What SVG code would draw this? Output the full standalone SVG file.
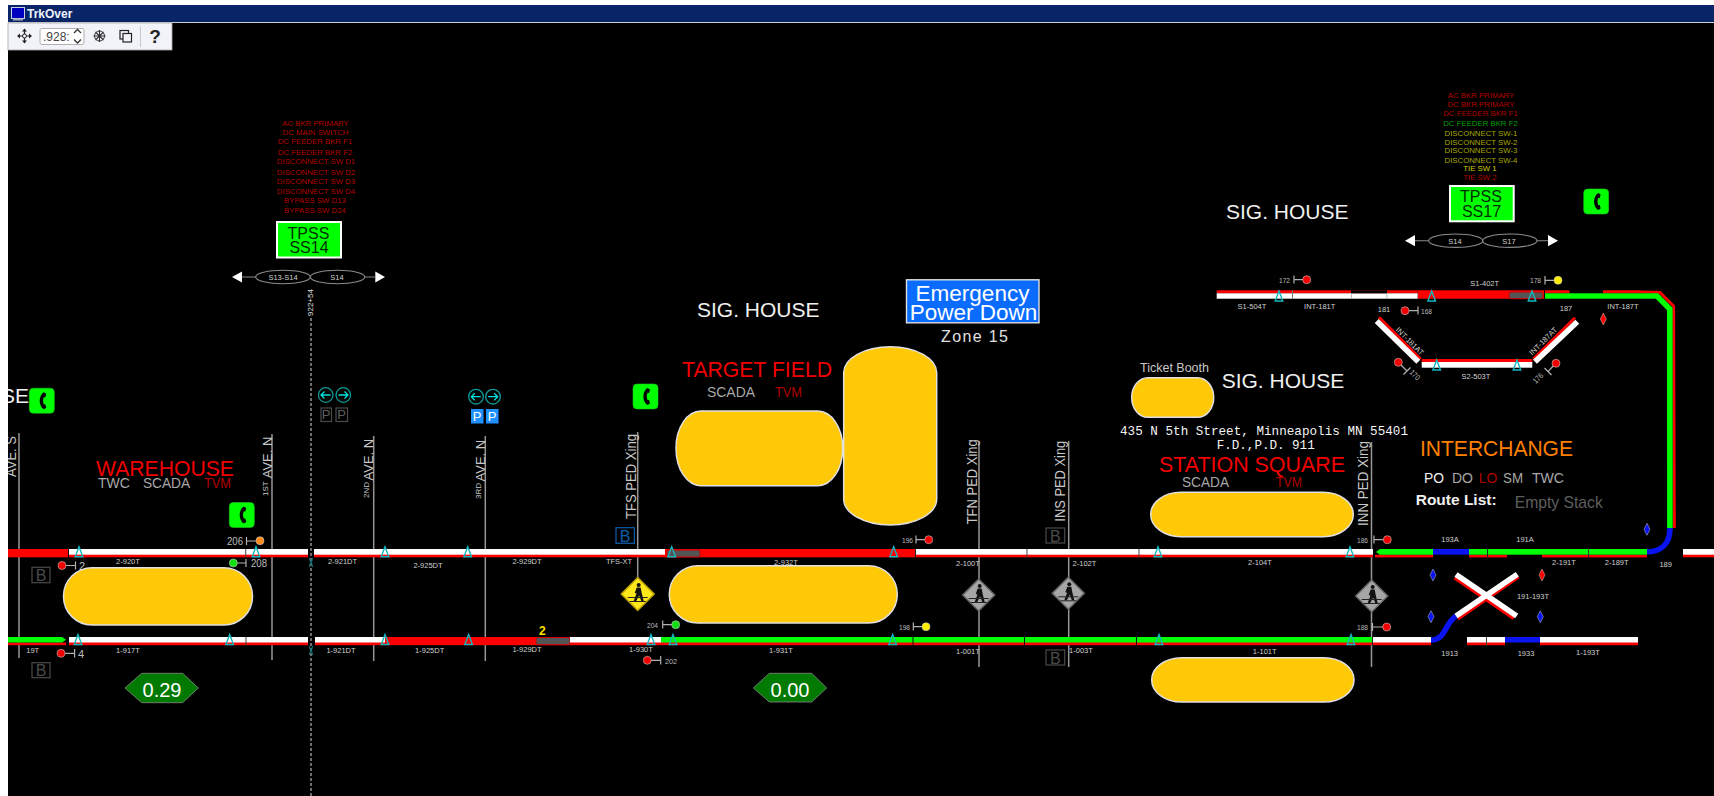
<svg xmlns="http://www.w3.org/2000/svg" width="1714" height="796" viewBox="0 0 1714 796">
<style>
text{font-family:"Liberation Sans",Arial,sans-serif}
.t8{font-size:7.5px;fill:#d0d0d0;text-anchor:middle}
.sig{font-size:8px;fill:#bdbdbd}
.red{font-size:21.5px;fill:#f00000}
.house{font-size:21px;fill:#f0f0f0}
.gr{font-size:14px;fill:#a8a8a8}
.dr{font-size:14px;fill:#b00000}
.v{font-size:14px;fill:#c8c8c8}
.lst{font-size:7.8px;text-anchor:middle}
.tp{font-size:16px;fill:#003000;text-anchor:middle}
.mono{font-family:"Liberation Mono",monospace;font-size:12.6px;fill:#f4f4f4}
.w{fill:#fff}.r{fill:#f00}.g{fill:#00ff00}.b{fill:#0a14f0}
.train{fill:#555;stroke:#d00000;stroke-width:1}
.plat{fill:#ffc907;stroke:#e0e0e0;stroke-width:1.5}
.pole{stroke:#969696;stroke-width:1.5;fill:none}
.tri{fill:none;stroke:#12b8c0;stroke-width:1.4}
.stem{stroke:#b0b0b0;stroke-width:1.2;fill:none}
.lamp{stroke:#c8c8c8;stroke-width:.6}
.phone{fill:#00ff00;stroke:#20c020;stroke-width:.6}
.bb{fill:none;stroke:#4a4a4a;stroke-width:1.2}
.bt{font-size:16px;fill:#4a4a4a;text-anchor:middle}
.hex{fill:#007a00;stroke:#8a8a8a;stroke-width:.8}
.sp{font-size:20px;fill:#fff;text-anchor:middle}
.ell{fill:none;stroke:#8c8c8c;stroke-width:1.1}
.dm{stroke:#c8c8c8;stroke-width:.5}
.cy{fill:none;stroke:#0f9a9a;stroke-width:1.3}
.tk{fill:none;stroke:#0c7f80;stroke-width:1}
</style>
<defs>
<path id="tr" d="M0-5 L3.8 5 L-3.8 5Z"/>
<path id="hand" d="M2-8.500 L4.500-7 L3.500-3.500 L2-3.500 C1-1 1 1 2 3.500 L3.500 3.500 L4.500 7 L2 8.500 C-3.500 5-3.500-5 2-8.500Z"/>
<g id="walker"><circle cx="1" cy="-9" r="2" fill="#111"/><path d="M-1-6.500 L3-6.500 L4-1 L6 7 L3.600 7 L1.400 1.500 L-1.500 7 L-4 7 L-1.200-.5 L-3-1 Z" fill="#111"/><path d="M-10 3.500 H10 M-8 7.500 H8" stroke="#222" stroke-width="1" fill="none"/></g>
</defs>
<rect width="1714" height="796" fill="#000"/>

<g id="connectors">
<g id="poles">
<path class="pole" d="M19 433V658M272 434V660M373.700 436V661M485.300 436V661M637.700 432V580M979 442V667M1068.700 441V667M1371.500 442V667"/>
<path d="M311 318V796" stroke="#9a9a9a" stroke-width="1.400" stroke-dasharray="3 2" fill="none"/>
</g>
<g id="track-2">
<rect class="r" x="8" y="549" width="60" height="8.300"/>
<rect class="r" x="69" y="549" width="239" height="8.300"/><rect class="w" x="69" y="549" width="239" height="5.700"/>
<rect x="245.200" y="549" width="1" height="8.300" fill="#444"/>
<rect class="r" x="314" y="549" width="351" height="8.300"/><rect class="w" x="314" y="549" width="351" height="5.700"/>
<rect class="r" x="665" y="549" width="250" height="8.300"/>
<rect x="915" y="549" width="1.200" height="8.300" fill="#222"/>
<rect class="r" x="916" y="549" width="457" height="8.300"/><rect class="w" x="916" y="549" width="457" height="5.700"/>
<rect x="1026.500" y="549" width="1" height="8.300" fill="#444"/><rect x="1138.500" y="549" width="1" height="8.300" fill="#444"/>
<rect class="r" x="1375" y="554.700" width="58" height="2.700"/>
<path class="g" d="M1376 552 L1380 549 H1433 V554.700 H1380Z"/>
<rect class="b" x="1433" y="549" width="36" height="5.700"/>
<rect class="r" x="1469" y="554.700" width="38" height="2.700"/><rect class="r" x="1542" y="554.700" width="105" height="2.700"/>
<rect class="g" x="1469" y="549" width="178" height="5.700"/>
<rect x="1487" y="549" width="1" height="8.300" fill="#222"/><rect x="1588" y="549" width=".8" height="8.300" fill="#222"/>
<path d="M1647 551.800 C1660 551.800 1670 545 1670 528" fill="none" stroke="#0a14f0" stroke-width="5.600"/>
<rect class="r" x="1683" y="549" width="31" height="8.300"/><rect class="w" x="1683" y="549" width="31" height="5.700"/>
<rect class="train" x="667" y="550" width="33" height="7" rx="1"/>
</g>
<g id="track-1">
<rect class="r" x="8" y="642.500" width="58" height="2.700"/>
<path class="g" d="M8 637 H62 L66 639.700 L62 642.500 H8Z"/>
<rect class="r" x="69" y="637" width="239" height="8.200"/><rect class="w" x="69" y="637" width="239" height="5.500"/>
<rect x="245.500" y="637" width="1" height="8.200" fill="#444"/>
<rect class="r" x="315" y="637" width="346" height="8.200"/><rect class="w" x="315" y="637" width="70" height="5.500"/>
<rect class="train" x="536" y="637.500" width="34" height="7.200" rx="1.500"/>
<rect class="w" x="570" y="637" width="91" height="5.500"/>
<rect class="r" x="661" y="637" width="711" height="8.200"/><rect class="g" x="661" y="637" width="711" height="5.500"/>
<rect x="912.500" y="637" width="1" height="8.200" fill="#111"/><rect x="1024" y="637" width="1" height="8.200" fill="#111"/><rect x="1136" y="637" width="1" height="8.200" fill="#111"/>
<rect class="r" x="1373" y="637" width="58" height="8.200"/><rect class="w" x="1373" y="637" width="58" height="5.500"/>
<path d="M1431 640 C1446 640 1444 624 1456 616" fill="none" stroke="#0a14f0" stroke-width="5.600"/>
<rect class="r" x="1467" y="637" width="38" height="8.200"/><rect class="w" x="1467" y="637" width="38" height="5.500"/>
<rect x="1486" y="637" width="1" height="8.200" fill="#444"/>
<rect class="b" x="1505" y="637" width="35" height="5.500"/>
<rect class="r" x="1540" y="637" width="98" height="8.200"/><rect class="w" x="1540" y="637" width="98" height="5.500"/>
</g>
<g id="crossover" fill="none">
<path d="M1454.500 578 L1513.500 618.500M1458 619 L1518.700 577" stroke="#f00" stroke-width="3"/>
<path d="M1456 574.500 L1516.700 616M1456 616 L1517.300 574.300" stroke="#fff" stroke-width="5.600"/>
</g>
<g id="upper-track">
<rect class="r" x="1216.700" y="290.300" width="201" height="3"/>
<rect class="w" x="1216.700" y="293.300" width="201" height="5.400"/>
<rect x="1351" y="290.300" width="36" height="3" fill="#000"/>
<rect x="1292" y="290.300" width="1" height="8.400" fill="#777"/><rect x="1351" y="293.300" width=".8" height="5.400" fill="#aaa"/><rect x="1386.500" y="293.300" width=".8" height="5.400" fill="#aaa"/>
<rect class="r" x="1418" y="290.300" width="126" height="8.400"/>
<rect class="train" x="1509" y="292" width="34" height="6.700" rx="2"/>
<rect class="r" x="1545" y="290.300" width="24.500" height="3"/><rect class="r" x="1603" y="290.300" width="38" height="3"/>
<rect class="g" x="1545" y="293.300" width="96" height="5.400"/>
<path d="M1641 291.800 L1660 292.400 L1673.700 306 L1674.400 528" fill="none" stroke="#f00" stroke-width="2.800"/>
<path d="M1641 296 L1657 296 L1669.800 309 L1669.900 528" fill="none" stroke="#00ff00" stroke-width="5.600"/>
<path d="M1379 317.300 L1420.700 359 M1575 317.700 L1533.300 359" fill="none" stroke="#f00" stroke-width="3"/>
<path d="M1376.700 321 L1418.300 361.700 M1577.300 321.700 L1535 361.700" fill="none" stroke="#fff" stroke-width="5.600"/>
<rect class="r" x="1421.700" y="359" width="110.600" height="3"/><rect class="w" x="1421.700" y="362" width="110.600" height="5.700"/>
</g>
<g id="section-ticks">
<path class="tk" d="M309.500 558 Q311.500 562.500 309.500 567M312.500 558 Q310.500 562.500 312.500 567M309.500 646 Q311.500 650.500 309.500 655M312.500 646 Q310.500 650.500 312.500 655"/>
</g>
<g id="track-circuit-markers">
<use href="#tr" class="tri" x="79" y="551.700"/><use href="#tr" class="tri" x="256" y="551.700"/><use href="#tr" class="tri" x="385" y="551.700"/><use href="#tr" class="tri" x="467.700" y="551.700"/><use href="#tr" class="tri" x="671.700" y="551.700"/><use href="#tr" class="tri" x="893.700" y="551.700"/><use href="#tr" class="tri" x="1158" y="551.700"/><use href="#tr" class="tri" x="1350" y="551.700"/>
<use href="#tr" class="tri" x="78" y="639.500"/><use href="#tr" class="tri" x="229.700" y="639.500"/><use href="#tr" class="tri" x="385" y="639.500"/><use href="#tr" class="tri" x="468.600" y="639.500"/><use href="#tr" class="tri" x="651" y="639.500"/><use href="#tr" class="tri" x="673" y="639.500"/><use href="#tr" class="tri" x="892.700" y="639.500"/><use href="#tr" class="tri" x="1159" y="639.500"/><use href="#tr" class="tri" x="1351" y="639.500"/>
<use href="#tr" class="tri" x="1279" y="296"/><use href="#tr" class="tri" x="1431.700" y="296"/><use href="#tr" class="tri" x="1532" y="296"/>
<use href="#tr" class="tri" x="1436.700" y="365"/><use href="#tr" class="tri" x="1517" y="365"/>
</g>
</g>

<g id="track-labels">
<text class="t8" x="128" y="564">2-920T</text><text class="t8" x="342.500" y="564">2-921DT</text><text class="t8" x="428" y="568">2-925DT</text><text class="t8" x="527" y="564">2-929DT</text><text class="t8" x="619" y="564">TFS-XT</text><text class="t8" x="786" y="565">2-932T</text><text class="t8" x="968" y="566">2-100T</text><text class="t8" x="1084.500" y="566">2-102T</text><text class="t8" x="1260" y="565">2-104T</text><text class="t8" x="1564" y="564.500">2-191T</text><text class="t8" x="1616.700" y="564.500">2-189T</text><text class="t8" x="1665.700" y="567">189</text><text class="t8" x="1450" y="542">193A</text><text class="t8" x="1525" y="542">191A</text><text class="t8" x="1533" y="599">191-193T</text>
<text class="t8" x="32.700" y="653">19T</text><text class="t8" x="128" y="652.500">1-917T</text><text class="t8" x="341" y="652.500">1-921DT</text><text class="t8" x="429.700" y="652.500">1-925DT</text><text class="t8" x="527" y="652">1-929DT</text><text class="t8" x="641" y="652">1-930T</text><text class="t8" x="781" y="653">1-931T</text><text class="t8" x="968" y="654">1-001T</text><text class="t8" x="1081" y="652.500">1-003T</text><text class="t8" x="1264.700" y="653.500">1-101T</text><text class="t8" x="1449.700" y="655.500">1913</text><text class="t8" x="1526" y="655.500">1933</text><text class="t8" x="1588" y="654.500">1-193T</text>
<text class="t8" x="1252" y="308.500">S1-504T</text><text class="t8" x="1319.700" y="308.500">INT-181T</text><text class="t8" x="1384" y="312">181</text><text class="t8" x="1484.700" y="285.500">S1-402T</text><text class="t8" x="1566" y="310.500">187</text><text class="t8" x="1623" y="309">INT-187T</text><text class="t8" x="1476" y="378.500">S2-503T</text>
<text class="t8" transform="translate(1408 343) rotate(45)">INT-181AT</text><text class="t8" transform="translate(1545 343) rotate(-45)">INT-187AT</text>
<text x="542.300" y="635" font-size="12" font-weight="bold" fill="#ffe000" text-anchor="middle">2</text>
</g>

<g id="signals">
<g id="sig-206"><text x="227" y="544.500" font-size="10" fill="#bdbdbd" textLength="16" lengthAdjust="spacingAndGlyphs">206</text><path class="stem" d="M246.500 537V545M246.500 541H256"/><circle class="lamp" cx="260" cy="540.700" r="4" fill="#ff8c1a"/></g>
<g id="sig-208"><circle class="lamp" cx="233.300" cy="563" r="4" fill="#10e010"/><path class="stem" d="M246 559V567M237 563H246"/><text x="251" y="567" font-size="11" fill="#bdbdbd" textLength="16" lengthAdjust="spacingAndGlyphs">208</text></g>
<g id="sig-2"><circle class="lamp" cx="62" cy="565.500" r="4" fill="#f00000"/><path class="stem" d="M75.500 561.500V569.500M66 565.500H75.500"/><text x="79" y="569.500" font-size="11" fill="#bdbdbd">2</text></g>
<g id="sig-4"><circle class="lamp" cx="61" cy="653.300" r="4" fill="#f00000"/><path class="stem" d="M74.600 649V657.500M65 653.300H74.600"/><text x="78" y="657.500" font-size="11" fill="#bdbdbd">4</text></g>
<g id="sig-204"><text class="sig" x="647" y="627.500" textLength="11" lengthAdjust="spacingAndGlyphs">204</text><path class="stem" d="M662.700 620.500V628.500M662.700 624.700H672"/><circle class="lamp" cx="675.700" cy="624.700" r="4" fill="#10e010"/></g>
<g id="sig-202"><circle class="lamp" cx="647.300" cy="660.300" r="4" fill="#f00000"/><path class="stem" d="M660.700 656V664.500M651 660.300H660.700"/><text class="sig" x="665" y="663.500" textLength="12" lengthAdjust="spacingAndGlyphs">202</text></g>
<g id="sig-196"><text class="sig" x="902" y="542.700" textLength="11" lengthAdjust="spacingAndGlyphs">196</text><path class="stem" d="M916 535.500V543.500M916 539.700H925"/><circle class="lamp" cx="928.700" cy="539.700" r="4" fill="#f00000"/></g>
<g id="sig-198"><text class="sig" x="899" y="629.500" textLength="11" lengthAdjust="spacingAndGlyphs">198</text><path class="stem" d="M913.300 622.500V630.500M913.300 626.700H922"/><circle class="lamp" cx="926" cy="626.700" r="4" fill="#ffee00"/></g>
<g id="sig-186"><text class="sig" x="1357" y="543" textLength="11" lengthAdjust="spacingAndGlyphs">186</text><path class="stem" d="M1374 535.500V543.500M1374 539.700H1383.500"/><circle class="lamp" cx="1387.300" cy="539.700" r="4" fill="#f00000"/></g>
<g id="sig-188"><text class="sig" x="1357" y="630" textLength="11" lengthAdjust="spacingAndGlyphs">188</text><path class="stem" d="M1372.500 623V631M1372.500 627H1383"/><circle class="lamp" cx="1386.700" cy="627" r="4" fill="#f00000"/></g>
<g id="sig-172"><text class="sig" x="1279" y="282.700" textLength="11" lengthAdjust="spacingAndGlyphs">172</text><path class="stem" d="M1294 275.500V283.500M1294 279.700H1303"/><circle class="lamp" cx="1306.700" cy="279.700" r="4" fill="#f00000"/></g>
<g id="sig-168"><circle class="lamp" cx="1405" cy="310.700" r="4" fill="#f00000"/><path class="stem" d="M1418 306.500V314.500M1409 310.700H1418"/><text class="sig" x="1421" y="313.700" textLength="11" lengthAdjust="spacingAndGlyphs">168</text></g>
<g id="sig-178"><text class="sig" x="1530" y="283.300" textLength="11" lengthAdjust="spacingAndGlyphs">178</text><path class="stem" d="M1545 276V284.500M1545 280.300H1554"/><circle class="lamp" cx="1558" cy="280.300" r="4" fill="#ffee00"/></g>
<g id="sig-170"><circle class="lamp" cx="1398.300" cy="362.300" r="4" fill="#f00000"/><path class="stem" d="M1401 365L1407 371M1403.500 374.500L1410.500 367.500"/><text class="sig" transform="translate(1409 373) rotate(45)" textLength="11" lengthAdjust="spacingAndGlyphs">170</text></g>
<g id="sig-176"><circle class="lamp" cx="1556" cy="363.300" r="4" fill="#f00000"/><path class="stem" d="M1553.200 366L1548 371.700M1544.500 368L1551.500 375"/><text class="sig" transform="translate(1536 384) rotate(-45)" textLength="11" lengthAdjust="spacingAndGlyphs">176</text></g>
</g>

<g id="switch-indicators">
<path class="b dm" d="M1433 569 L1436 575 L1433 581 L1430 575Z"/><path class="b dm" d="M1431 610.700 L1434 616.700 L1431 622.700 L1428 616.700Z"/><path class="b dm" d="M1540.300 610.700 L1543.300 616.700 L1540.300 622.700 L1537.300 616.700Z"/><path class="b dm" d="M1647 523.300 L1650 529.300 L1647 535.300 L1644 529.300Z"/>
<path class="r dm" d="M1542 569 L1545 575 L1542 581 L1539 575Z"/><path class="r dm" d="M1603.300 313 L1606.300 319 L1603.300 325 L1600.300 319Z"/>
</g>

<g id="street-labels">
<text class="v" transform="translate(16 477) rotate(-90)" textLength="41" lengthAdjust="spacingAndGlyphs">AVE. S</text>
<text class="v" transform="translate(272 496) rotate(-90)"><tspan font-size="8" dy="-4">1ST</tspan><tspan dy="4" dx="3" font-size="13">AVE. N</tspan></text>
<text class="v" transform="translate(373 498) rotate(-90)"><tspan font-size="8" dy="-4">2ND</tspan><tspan dy="4" dx="1.500" font-size="13">AVE. N</tspan></text>
<text class="v" transform="translate(485 499) rotate(-90)"><tspan font-size="8" dy="-4">3RD</tspan><tspan dy="4" dx="1.500" font-size="13">AVE. N</tspan></text>
<text class="v" transform="translate(635.700 519) rotate(-90)" textLength="85" lengthAdjust="spacingAndGlyphs">TFS PED Xing</text>
<text class="v" transform="translate(976.700 524.300) rotate(-90)" textLength="85" lengthAdjust="spacingAndGlyphs">TFN PED Xing</text>
<text class="v" transform="translate(1065.300 521.700) rotate(-90)" textLength="81" lengthAdjust="spacingAndGlyphs">INS PED Xing</text>
<text class="v" transform="translate(1368 526) rotate(-90)" textLength="85" lengthAdjust="spacingAndGlyphs">INN PED Xing</text>
<text transform="translate(313 316) rotate(-90)" font-size="8" fill="#e0e0e0">922+54</text>
</g>

<g id="platforms">
<rect class="plat" x="63.500" y="567.700" width="189" height="57.300" rx="28.600"/>
<rect class="plat" x="676" y="411" width="166.700" height="74.700" rx="25" ry="37"/>
<rect class="plat" x="843.700" y="346.700" width="93" height="178.300" rx="46.500" ry="26"/>
<rect class="plat" x="669.300" y="565.700" width="228" height="57.300" rx="28.600"/>
<rect class="plat" x="1131.700" y="377.700" width="82" height="39.600" rx="16" ry="19.800"/>
<rect class="plat" x="1150.700" y="492.300" width="202.600" height="44.400" rx="30" ry="22.200"/>
<rect class="plat" x="1151.700" y="657.700" width="202.300" height="44.300" rx="30" ry="22.100"/>
</g>

<g id="ped-xings">
<g id="xing-tfs" transform="translate(637.700 594)"><path d="M0-16.500 L16.500 0 L0 16.500 L-16.500 0Z" fill="#ffe81a" stroke="#b8a000" stroke-width="1.500"/><use href="#walker"/></g>
<g id="xing-tfn" transform="translate(978.700 595)"><path d="M0-16 L16 0 L0 16 L-16 0Z" fill="#a6a6a6" stroke="#666" stroke-width="1.500"/><use href="#walker"/></g>
<g id="xing-ins" transform="translate(1068.300 593.300)"><path d="M0-16 L16 0 L0 16 L-16 0Z" fill="#a6a6a6" stroke="#666" stroke-width="1.500"/><use href="#walker"/></g>
<g id="xing-inn" transform="translate(1371.700 596)"><path d="M0-16 L16 0 L0 16 L-16 0Z" fill="#a6a6a6" stroke="#666" stroke-width="1.500"/><use href="#walker"/></g>
</g>

<g id="phones">
<g id="phone-1" transform="translate(41.800 400.700)"><rect class="phone" x="-12.500" y="-12.500" width="25" height="25" rx="4"/><use href="#hand"/></g>
<g id="phone-2" transform="translate(241.800 515)"><rect class="phone" x="-12.500" y="-12.500" width="25" height="25" rx="4"/><use href="#hand"/></g>
<g id="phone-3" transform="translate(645.500 396.500)"><rect class="phone" x="-12.500" y="-12.500" width="25" height="25" rx="4"/><use href="#hand"/></g>
<g id="phone-4" transform="translate(1596.200 201.500)"><rect class="phone" x="-12.500" y="-12.500" width="25" height="25" rx="4"/><use href="#hand"/></g>
</g>

<g id="crossing-gates">
<g id="gate-2nd">
<circle class="cy" cx="325.700" cy="395" r="7.300"/><path d="M330.500 395H321M324.500 391.500L321 395L324.500 398.500" fill="none" stroke="#00e0e0" stroke-width="1.300"/>
<circle class="cy" cx="343.300" cy="395" r="7.300"/><path d="M338.500 395H348M344.500 391.500L348 395L344.500 398.500" fill="none" stroke="#00e0e0" stroke-width="1.300"/>
<rect class="bb" x="321" y="408" width="10.500" height="13.500"/><rect class="bb" x="336" y="408" width="11.500" height="13.500"/>
<text x="326.200" y="419" font-size="13" fill="#5e5e5e" text-anchor="middle">P</text><text x="341.700" y="419" font-size="13" fill="#5e5e5e" text-anchor="middle">P</text>
</g>
<g id="gate-3rd">
<circle class="cy" cx="476" cy="396.700" r="7.300"/><path d="M480.800 396.700H471.300M474.800 393.200L471.300 396.700L474.800 400.200" fill="none" stroke="#00e0e0" stroke-width="1.300"/>
<circle class="cy" cx="493" cy="396.700" r="7.300"/><path d="M488.200 396.700H497.700M494.200 393.200L497.700 396.700L494.200 400.200" fill="none" stroke="#00e0e0" stroke-width="1.300"/>
<rect x="471" y="409" width="12.500" height="14.500" fill="#1e90ff"/><rect x="486" y="409" width="12.500" height="14.500" fill="#1e90ff"/>
<text x="477.200" y="421" font-size="13" fill="#fff" text-anchor="middle">P</text><text x="492.200" y="421" font-size="13" fill="#fff" text-anchor="middle">P</text>
</g>
</g>

<g id="bells">
<g id="b-1"><rect class="bb" x="32" y="567.300" width="18" height="15.400"/><text class="bt" x="41" y="581">B</text></g>
<g id="b-2"><rect class="bb" x="32" y="662.700" width="18" height="15"/><text class="bt" x="41" y="676.300">B</text></g>
<g id="b-3"><rect x="616" y="527.700" width="18.300" height="15.600" fill="none" stroke="#0a60b0" stroke-width="1.200"/><text x="625.200" y="541.500" font-size="16" fill="#0a60b0" text-anchor="middle">B</text></g>
<g id="b-4"><rect class="bb" x="1046" y="528" width="18.700" height="15"/><text class="bt" x="1055.300" y="541.500">B</text></g>
<g id="b-5"><rect class="bb" x="1046" y="650" width="18.700" height="15"/><text class="bt" x="1055.300" y="663.500">B</text></g>
</g>

<g id="speed-markers">
<g id="speed-1"><path class="hex" d="M125 688 L141.700 673.300 H182.700 L198.300 688 L182.700 702.700 H141.700Z"/><text class="sp" x="162" y="696.500">0.29</text></g>
<g id="speed-2"><path class="hex" d="M753.300 688 L769.300 673.300 H811.700 L826.700 688 L811.700 702 H769.300Z"/><text class="sp" x="790" y="696.500">0.00</text></g>
</g>

<g id="warehouse">
<text class="red" x="96" y="476" textLength="138" lengthAdjust="spacingAndGlyphs">WAREHOUSE</text>
<text class="gr" x="98" y="488" textLength="32" lengthAdjust="spacingAndGlyphs">TWC</text><text class="gr" x="143" y="488" textLength="47" lengthAdjust="spacingAndGlyphs">SCADA</text><text class="dr" x="204" y="488" textLength="27" lengthAdjust="spacingAndGlyphs">TVM</text>
</g>
<g id="target-field">
<text class="red" x="682" y="377.300" textLength="150" lengthAdjust="spacingAndGlyphs">TARGET FIELD</text>
<text class="gr" x="707" y="397.300" textLength="48" lengthAdjust="spacingAndGlyphs">SCADA</text><text class="dr" x="775" y="397.300" textLength="27" lengthAdjust="spacingAndGlyphs">TVM</text>
</g>
<g id="station-square">
<text class="red" x="1159" y="471.700" textLength="186" lengthAdjust="spacingAndGlyphs">STATION SQUARE</text>
<text class="gr" x="1182" y="487.300" textLength="47" lengthAdjust="spacingAndGlyphs">SCADA</text><text class="dr" x="1276" y="487.300" textLength="26" lengthAdjust="spacingAndGlyphs">TVM</text>
<text x="1140" y="371.700" font-size="12.400" fill="#c8c8c8" textLength="69" lengthAdjust="spacingAndGlyphs">Ticket Booth</text>
<text class="mono" x="1120" y="435" textLength="288">435 N 5th Street, Minneapolis MN 55401</text>
<text class="mono" x="1216.700" y="449.300" textLength="98">F.D.,P.D. 911</text>
</g>
<g id="sig-houses">
<text class="house" x="1" y="403">SE</text>
<text class="house" x="697" y="317.300">SIG. HOUSE</text>
<text class="house" x="1226" y="219">SIG. HOUSE</text>
<text class="house" x="1221.700" y="388.300">SIG. HOUSE</text>
</g>
<g id="emergency">
<rect x="906.500" y="279.800" width="132.500" height="43" fill="#0a6cff" stroke="#e0e0e0" stroke-width="1.400"/>
<text x="972.500" y="300.700" font-size="22.500" fill="#fff" text-anchor="middle">Emergency</text>
<text x="973.500" y="320" font-size="22.500" fill="#fff" text-anchor="middle">Power Down</text>
<text x="941" y="342.300" font-size="16" fill="#e0e0e0" textLength="67">Zone 15</text>
</g>
<g id="interchange">
<text x="1420" y="455.700" font-size="21.600" fill="#ff7f00" textLength="153" lengthAdjust="spacingAndGlyphs">INTERCHANGE</text>
<text class="gr" x="1424" y="482.700" style="fill:#f0f0f0" textLength="20" lengthAdjust="spacingAndGlyphs">PO</text><text class="gr" x="1452" y="482.700" textLength="21" lengthAdjust="spacingAndGlyphs">DO</text><text class="dr" x="1478.700" y="482.700" textLength="18.500" lengthAdjust="spacingAndGlyphs">LO</text><text class="gr" x="1503" y="482.700" textLength="20" lengthAdjust="spacingAndGlyphs">SM</text><text class="gr" x="1532" y="482.700" textLength="32" lengthAdjust="spacingAndGlyphs">TWC</text>
<text x="1415.700" y="505" font-size="15.500" font-weight="bold" fill="#f0f0f0">Route List:</text>
<text x="1514.700" y="507.700" font-size="15.700" fill="#5e5e5e">Empty Stack</text>
</g>

<g id="tpss-ss14">
<g fill="#b40000">
<text class="lst" x="315.500" y="126">AC BKR PRIMARY</text><text class="lst" x="315.500" y="135">DC MAIN SWITCH</text><text class="lst" x="315" y="144">DC FEEDER BKR F1</text><text class="lst" x="315" y="155">DC FEEDER BKR F2</text><text class="lst" x="316" y="164">DISCONNECT SW D1</text><text class="lst" x="316" y="174.700">DISCONNECT SW D2</text><text class="lst" x="316" y="184">DISCONNECT SW D3</text><text class="lst" x="316" y="193.700">DISCONNECT SW D4</text><text class="lst" x="315" y="203">BYPASS SW D13</text><text class="lst" x="315" y="213">BYPASS SW D24</text>
</g>
<rect x="277" y="222" width="64" height="35.500" fill="#00ff00" stroke="#fff" stroke-width="2"/>
<text class="tp" x="308.500" y="238.700">TPSS</text><text class="tp" x="309" y="253.300">SS14</text>
<path d="M232 277 L242 271.500 V282.500Z M385 277 L375.300 271.500 V282.500Z" fill="#fff"/>
<path d="M242 277H256M365 277H375.300" stroke="#8c8c8c" stroke-width="1.100"/>
<ellipse class="ell" cx="283" cy="277" rx="27.300" ry="6.700"/><ellipse class="ell" cx="337.500" cy="277" rx="27.200" ry="6.700"/>
<text class="t8" x="283" y="280">S13-S14</text><text class="t8" x="337" y="280">S14</text>
</g>

<g id="tpss-ss17">
<g fill="#b40000">
<text class="lst" x="1481" y="98">AC BKR PRIMARY</text><text class="lst" x="1481" y="106.700">DC BKR PRIMARY</text><text class="lst" x="1480.500" y="116.300">DC FEEDER BKR F1</text>
<text class="lst" x="1480.500" y="125.700" style="fill:#00a000">DC FEEDER BKR F2</text>
<g fill="#a8a800"><text class="lst" x="1481" y="136.300">DISCONNECT SW-1</text><text class="lst" x="1481" y="144.700">DISCONNECT SW-2</text><text class="lst" x="1481" y="153.300">DISCONNECT SW-3</text><text class="lst" x="1481" y="162.700">DISCONNECT SW-4</text></g>
<text class="lst" x="1480" y="171.300" style="fill:#d0d000">TIE SW 1</text><text class="lst" x="1480" y="180">TIE SW 2</text>
</g>
<rect x="1450" y="186" width="63.700" height="35.300" fill="#00ff00" stroke="#fff" stroke-width="2"/>
<text class="tp" x="1481" y="202">TPSS</text><text class="tp" x="1481.500" y="216.700">SS17</text>
<path d="M1405 240.700 L1415 235 V246.300Z M1558 240.700 L1548 235 V246.300Z" fill="#fff"/>
<path d="M1415 240.700H1428.700M1537 240.700H1548" stroke="#8c8c8c" stroke-width="1.100"/>
<ellipse class="ell" cx="1455.700" cy="240.700" rx="27" ry="6.700"/><ellipse class="ell" cx="1509.800" cy="240.700" rx="27.200" ry="6.700"/>
<text class="t8" x="1455" y="243.700">S14</text><text class="t8" x="1509" y="243.700">S17</text>
</g>

<g id="window">
<rect x="0" y="0" width="8" height="796" fill="#fff"/>
<rect x="0" y="0" width="1714" height="5" fill="#fff"/>
<rect x="8" y="5" width="1706" height="17" fill="#0a2468"/>
<rect x="8" y="22" width="1706" height="1" fill="#d0d0d0"/>
<rect x="11.500" y="7.500" width="13" height="11" fill="#0000c0" stroke="#c8d0e0"/><rect x="13" y="18.500" width="10" height="2" fill="#a0a8b8"/>
<text x="27" y="18" font-size="12" font-weight="bold" fill="#f0f4ff">TrkOver</text>
<rect x="8" y="23" width="164" height="27" fill="#f2f3f8" stroke="#a8a8a8" stroke-width=".8"/>
<g id="tool-move" fill="#222" stroke="#222"><path d="M24.500 30V42M18.500 36H30.500" stroke-width="1.200" fill="none"/><path d="M24.500 28.500L27 31.500H22ZM24.500 43.500L27 40.500H22ZM17 36L20 33.500V38.500ZM32 36L29 33.500V38.500Z" stroke="none"/><circle cx="24.500" cy="36" r="2" fill="#f2f3f8" stroke-width="1"/></g>
<rect x="40" y="28.500" width="44" height="16" rx="2" fill="#fff" stroke="#b0b0b0"/>
<text x="43" y="41" font-size="12" fill="#444">.928:</text>
<path d="M74 33L77.500 29.500L81 33M74 39.500L77.500 43L81 39.500" fill="none" stroke="#333" stroke-width="1.300"/>
<g id="tool-freeze" fill="none" stroke="#333"><circle cx="99.500" cy="36" r="5"/><path d="M99.500 30V42M93.500 36H105.500M95.500 32L103.500 40M103.500 32L95.500 40" stroke-width="1.100"/></g>
<g id="tool-copy" fill="none" stroke="#222" stroke-width="1.200"><rect x="120" y="30.500" width="8.500" height="8.500"/><rect x="123" y="33.500" width="8.500" height="8.500" fill="#f2f3f8"/></g>
<path d="M140.500 26V47" stroke="#c8c8c8"/>
<text x="155" y="43" font-size="19" font-weight="bold" fill="#222" text-anchor="middle">?</text>
</g>
</svg>
